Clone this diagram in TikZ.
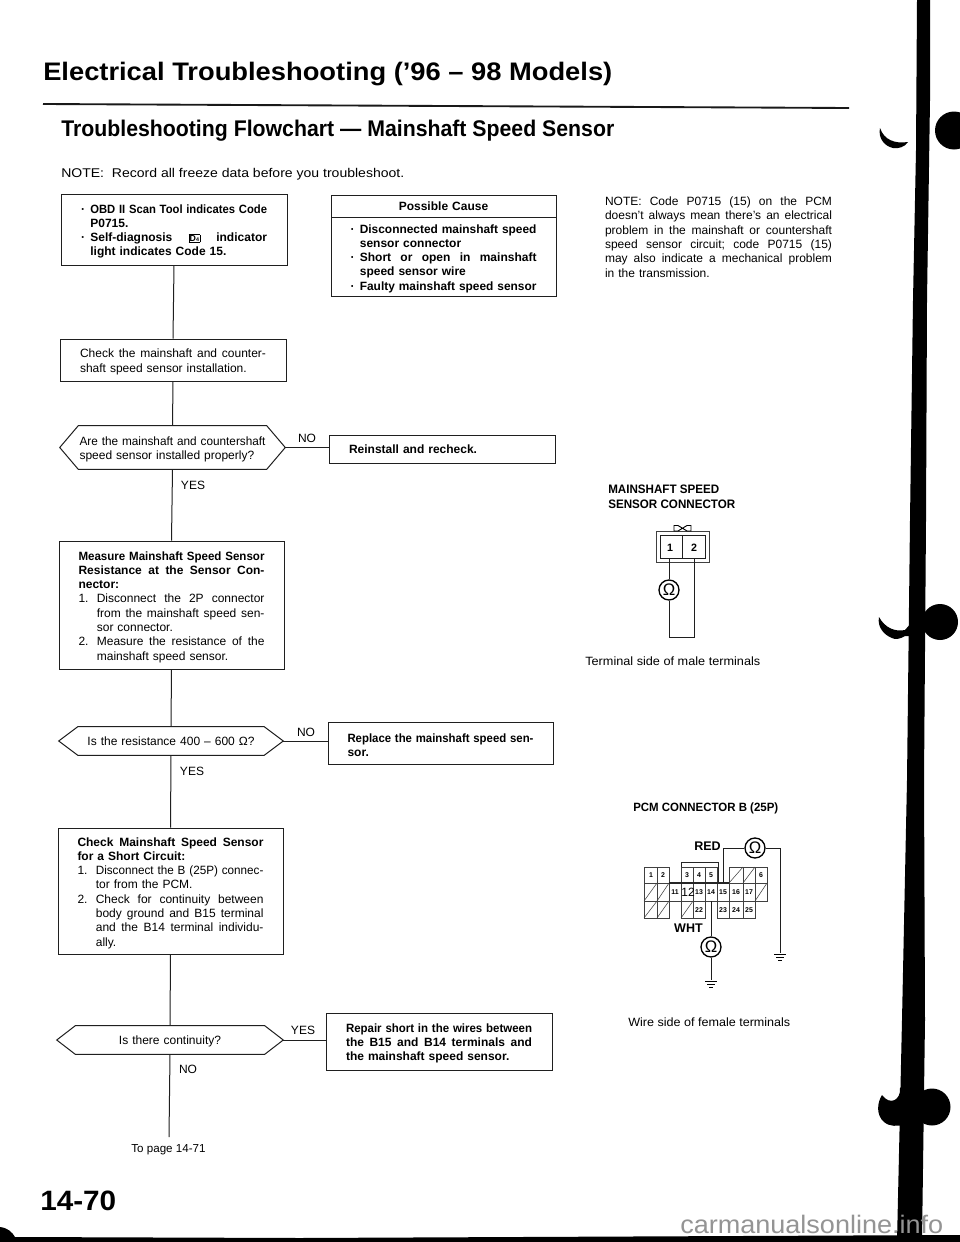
\documentclass[tikz,border=0pt]{standalone}
\usepackage{fontspec}
\usepackage{graphicx}
\setmainfont{Liberation Sans}
\usetikzlibrary{calc}
\newsavebox\tmpb
\newdimen\avail
\def\bw{139.5pt}
% justified line: indent, marker, text
\newcommand\lineJ[3]{\hbox to \bw{\hbox to #1{#2\hss}\avail=\dimexpr\bw-#1\relax\sbox\tmpb{\frenchspacing\spaceskip=\fontdimen2\font plus 1fil\relax #3}\ifdim\wd\tmpb>\avail\resizebox{\avail}{\height}{#3}\else\hbox to \avail{\unhbox\tmpb}\fi}}
% natural line
\newcommand\lineN[3]{\hbox to \bw{\hbox to #1{#2\hss}\avail=\dimexpr\bw-#1\relax\sbox\tmpb{#3}\ifdim\wd\tmpb>\avail\resizebox{\avail}{\height}{#3}\else\usebox\tmpb\fi\hss}}
% text fitted to a width given in pixels
\newcommand\tw[2]{\avail=0.75pt\avail=#1\avail\resizebox{\avail}{\height}{#2}}
\newcommand\dicon{\smash{\raisebox{0.2pt}{\setlength\fboxsep{0.4pt}\setlength\fboxrule{0.35pt}\fbox{\fontsize{6.6}{7}\selectfont D\raisebox{-0.2pt}{\fontsize{4}{4}\selectfont 4}}}}}
\newcommand\hexa[2]{\draw[flowline] (#1.west) -- ([xshift=#2*0.75pt]#1.north west) -- ([xshift=-#2*0.75pt]#1.north east) -- (#1.east) -- ([xshift=-#2*0.75pt]#1.south east) -- ([xshift=#2*0.75pt]#1.south west) -- cycle;}
\tikzset{
  flowline/.style={line width=0.75pt,black!88},
  flowbox/.style 2 args={draw=black!88,line width=0.75pt,inner sep=0pt,minimum width=#1*0.75pt,minimum height=#2*0.75pt,text width=139.5pt,font=\fontsize{9}{10.7}\selectfont,execute at end node={\par\vspace*{-3pt}}},
  flowhex/.style 2 args={inner sep=0pt,minimum width=#1*0.75pt,minimum height=#2*0.75pt,text width=139.5pt,font=\fontsize{9}{10.7}\selectfont,execute at end node={\par\vspace*{-3pt}}},
  lbl/.style={inner sep=0pt,anchor=base west},
  edge lbl/.style={inner sep=0pt,font=\fontsize{9}{10}\selectfont},
  meter/.style={circle,draw=black,line width=1pt,minimum size=20*0.75pt,inner sep=0pt,font=\fontsize{12.5}{12.5}\selectfont},
  wire/.style={line width=0.75pt,black!88},
  cellbox/.style={line width=0.4pt,black!75},
  pin/.style={inner sep=0pt,font=\fontsize{5.2}{6}\bfseries\selectfont},
}
\begin{document}
\begin{tikzpicture}[x=0.75pt,y=-0.75pt]
\useasboundingbox (0,0) rectangle (960,1242);
\clip (0,0) rectangle (960,1242);
\fill[white] (0,0) rectangle (960,1242);

% headings
\node[lbl] (title) at (43,80) {\fontsize{19}{22}\bfseries\selectfont\tw{569}{Electrical Troubleshooting ('96 – 98 Models)}};
\draw[line width=1.4pt,black!90] (43,104) -- (849,108);
\node[lbl] (subtitle) at (61,136.5) {\fontsize{17}{20}\bfseries\selectfont\tw{553}{Troubleshooting Flowchart — Mainshaft Speed Sensor}};
\node[lbl] (topnote) at (61,177) {\fontsize{9.5}{11}\selectfont\tw{343}{NOTE:\ \ Record all freeze data before you troubleshoot.}};

% flowchart boxes
\node[flowbox={226}{71}] (start) at (174,229.5) {\bfseries
  \lineJ{7pt}{·}{OBD II Scan Tool indicates Code}
  \lineN{7pt}{}{P0715.}
  \lineJ{7pt}{·}{Self-diagnosis \dicon{} indicator}
  \lineN{7pt}{}{light indicates Code 15.}};
\node[flowbox={225}{22}] (causehead) at (443.5,206) {\centering\bfseries Possible Cause\par};
\node[flowbox={225}{79}] (causebody) at (443.5,256.5) {\bfseries
  \lineJ{7pt}{·}{Disconnected mainshaft speed}
  \lineN{7pt}{}{sensor connector}
  \lineJ{7pt}{·}{Short or open in mainshaft}
  \lineN{7pt}{}{speed sensor wire}
  \lineN{7pt}{·}{Faulty mainshaft speed sensor}};
\node[flowbox={226}{42}] (check) at (173,360) {
  \lineJ{0pt}{}{Check the mainshaft and counter-}
  \lineN{0pt}{}{shaft speed sensor installation.}};
\node[flowhex={225}{43}] (d1) at (172.5,447.5) {
  \lineJ{0pt}{}{Are the mainshaft and countershaft}
  \lineN{0pt}{}{speed sensor installed properly?}};
\hexa{d1}{18.5}
\node[flowbox={226}{28}] (reinstall) at (442,449.5) {\bfseries
  \lineN{0pt}{}{Reinstall and recheck.}};
\node[flowbox={225}{128}] (measure) at (171.5,605) {
  \lineJ{0pt}{}{\bfseries Measure Mainshaft Speed Sensor}
  \lineJ{0pt}{}{\bfseries Resistance at the Sensor Con-}
  \lineN{0pt}{}{\bfseries nector:}
  \lineJ{13.75pt}{1.}{Disconnect the 2P connector}
  \lineJ{13.75pt}{}{from the mainshaft speed sen-}
  \lineN{13.75pt}{}{sor connector.}
  \lineJ{13.75pt}{2.}{Measure the resistance of the}
  \lineN{13.75pt}{}{mainshaft speed sensor.}};
\node[flowhex={224}{28}] (d2) at (171,741) {\centering Is the resistance 400 – 600 Ω?\par};
\hexa{d2}{19}
\node[flowbox={225}{42}] (replace) at (440.5,743) {\bfseries
  \lineJ{0pt}{}{Replace the mainshaft speed sen-}
  \lineN{0pt}{}{sor.}};
\node[flowbox={225}{126}] (shortcheck) at (170.5,891) {
  \lineJ{0pt}{}{\bfseries Check Mainshaft Speed Sensor}
  \lineN{0pt}{}{\bfseries for a Short Circuit:}
  \lineJ{13.75pt}{1.}{Disconnect the B (25P) connec-}
  \lineN{13.75pt}{}{tor from the PCM.}
  \lineJ{13.75pt}{2.}{Check for continuity between}
  \lineJ{13.75pt}{}{body ground and B15 terminal}
  \lineJ{13.75pt}{}{and the B14 terminal individu-}
  \lineN{13.75pt}{}{ally.}};
\node[flowhex={226}{28}] (d3) at (170,1040) {\centering Is there continuity?\par};
\hexa{d3}{18.5}
\node[flowbox={226}{57}] (repair) at (439,1041.5) {\bfseries
  \lineJ{0pt}{}{Repair short in the wires between}
  \lineJ{0pt}{}{the B15 and B14 terminals and}
  \lineN{0pt}{}{the mainshaft speed sensor.}};

% connectors
\coordinate (pageend) at (169,1137);
\draw[flowline] (start.south) -- (check.north);
\draw[flowline] (check.south) -- (d1.north);
\draw[flowline] (d1.south) -- (measure.north);
\draw[flowline] (measure.south) -- (d2.north);
\draw[flowline] (d2.south) -- (shortcheck.north);
\draw[flowline] (shortcheck.south) -- (d3.north);
\draw[flowline] (d3.south) -- (pageend);
\draw[flowline] (d1.east) -- (reinstall.west |- d1.east);
\draw[flowline] (d2.east) -- (replace.west |- d2.east);
\draw[flowline] (d3.east) -- (repair.west |- d3.east);

\node[edge lbl] (no1) at (307,438) {NO};
\node[edge lbl] (yes1) at (193,485) {YES};
\node[edge lbl] (no2) at (306,732) {NO};
\node[edge lbl] (yes2) at (192,771) {YES};
\node[edge lbl] (yes3) at (303,1030) {YES};
\node[edge lbl] (no3) at (188,1069) {NO};
\node[inner sep=0pt,font=\fontsize{8.7}{10}\selectfont] (topage) at (168.5,1150) {To page 14-71};
\node[lbl] (pageno) at (40,1210) {\fontsize{21}{24}\bfseries\selectfont\tw{76}{14-70}};

% right note
\node[inner sep=0pt,text width=170.25pt,font=\fontsize{9}{10.75}\selectfont] (rnote) at (718.5,237) {\def\bw{170.25pt}%
  \lineJ{0pt}{}{NOTE: Code P0715 (15) on the PCM}
  \lineJ{0pt}{}{doesn't always mean there's an electrical}
  \lineJ{0pt}{}{problem in the mainshaft or countershaft}
  \lineJ{0pt}{}{speed sensor circuit; code P0715 (15)}
  \lineJ{0pt}{}{may also indicate a mechanical problem}
  \lineN{0pt}{}{in the transmission.}};

% mainshaft connector
\node[lbl] (mshead1) at (608,493) {\fontsize{9.2}{11}\bfseries\selectfont\tw{111}{MAINSHAFT SPEED}};
\node[lbl] (mshead2) at (608,508) {\fontsize{9.2}{11}\bfseries\selectfont\tw{127}{SENSOR CONNECTOR}};
\draw[cellbox,line width=0.55pt] (656,531) rectangle (709,562);
\draw[wire] (660,535) rectangle (705,558);
\draw[wire] (682,535) -- (682,558);
\draw[line width=0.7pt] (674,525.5) -- (678,525.5) -- (687,531) -- (691,531) -- (691,525.5) -- (687,525.5) -- (678,531) -- (674,531) -- cycle;
\node[inner sep=0pt,font=\fontsize{8}{9}\bfseries\selectfont] (ms1) at (670,548) {1};
\node[inner sep=0pt,font=\fontsize{8}{9}\bfseries\selectfont] (ms2) at (694,548) {2};
\node[meter] (m0) at (669,590) {Ω};
\coordinate (msa) at (669,558);
\coordinate (msb) at (694.5,558);
\coordinate (msc) at (669,637);
\draw[wire] (msa) -- (m0.north);
\draw[wire] (m0.south) -- (msc) -| (msb);
\node[lbl] (mscap) at (585,665) {\fontsize{9}{11}\selectfont\tw{175}{Terminal side of male terminals}};

% PCM connector
\node[lbl] (pcmhead) at (633,811) {\fontsize{9}{11}\bfseries\selectfont\tw{145}{PCM CONNECTOR B (25P)}};
\node[inner sep=0pt,font=\fontsize{9.4}{11}\bfseries\selectfont] (red) at (707.5,846) {RED};
\node[inner sep=0pt,font=\fontsize{9.4}{11}\bfseries\selectfont] (wht) at (688.5,928) {WHT};
\foreach \xa/\xb/\ya/\yb in {644/657/867/883,657/669/867/883,
    681/693/867/883,693/705/867/883,705/717/867/883,755/767/867/883,
    669/681/883/901,681/693/883/901,693/705/883/901,705/717/883/901,717/729/883/901,729/743/883/901,743/755/883/901,
    693/705/901/918,717/729/901/918,729/743/901/918,743/755/901/918}
  \draw[cellbox] (\xa,\ya) rectangle (\xb,\yb);
\foreach \xa/\xb/\ya/\yb in {644/657/883/901,657/669/883/901,644/657/901/918,657/669/901/918,
    729/743/867/883,743/755/867/883,755/767/883/901,681/693/901/918}{
  \draw[cellbox] (\xa,\ya) rectangle (\xb,\yb);
  \draw[cellbox] (\xa,\yb) -- (\xb,\ya);
}
\draw[line width=0.8pt,black!85] (669,883) -- (729,883);
\draw[line width=0.6pt,black!85] (681,867) -- (681,862) -- (718,862) -- (718,883);
\foreach \n/\x/\y in {1/651/875,2/663/875,3/687/875,4/699/875,5/711/875,6/761/875,
    11/675/892,13/699/892,14/711/892,15/723/892,16/736/892,17/749/892,
    22/699/910,23/723/910,24/736/910,25/749/910}
  \node[pin] (p\n) at (\x,\y) {\n};
\node[inner sep=0pt,font=\fontsize{9}{10}\selectfont] (p12) at (688,892) {12};
\node[meter] (m1) at (755,848) {Ω};
\node[meter] (m2) at (711,947) {Ω};
\coordinate (t15) at (723,883);
\coordinate (t14) at (711,901);
\coordinate (g1) at (780,953);
\coordinate (g2) at (711,980);
\draw[wire] (m1.west) -| (t15);
\draw[wire] (m1.east) -| (g1);
\draw[wire] (t14) -- (m2.north);
\draw[wire] (m2.south) -- (g2);
\foreach \p in {g1,g2}{
  \draw[line width=0.5pt] ($(\p)+(-6,1)$) -- ($(\p)+(6,1)$);
  \draw[line width=0.5pt] ($(\p)+(-4,4)$) -- ($(\p)+(4,4)$);
  \draw[line width=0.5pt] ($(\p)+(-2,7)$) -- ($(\p)+(2,7)$);
}
\node[lbl] (pcmcap) at (628,1026) {\fontsize{9}{11}\selectfont\tw{162}{Wire side of female terminals}};

% page edge marks
\fill[black] (917,0) -- (930,0) -- (930,100) -- (927,300) -- (926,520) -- (924,780) -- (925,1020) -- (922,1242)
  -- (897,1242) -- (902,1020) -- (907,780) -- (910,520) -- (913,300) -- (916,150) -- cycle;
\fill[black] (880,128) .. controls (884,140) and (895,144) .. (908,142) .. controls (905,147) and (898,149) .. (893,148) .. controls (884,146) and (878,138) .. (880,128) -- cycle;
\fill[black] (954,130.5) circle (19);
\fill[black] (940,622) circle (18);
\fill[black] (879,617) .. controls (885,628) and (895,632) .. (905,630) -- (912,622) -- (912,636) -- (905,636) .. controls (900,639) and (895,640) .. (892,638) .. controls (884,635) and (877,627) .. (879,617) -- cycle;
\fill[black] (932,1107) circle (18.5);
\fill[black] (882,1095) .. controls (877,1103) and (876,1115) .. (884,1122) .. controls (890,1127) and (897,1126) .. (905,1125) -- (905,1088) -- (900,1088) .. controls (901,1100) and (890,1106) .. (882,1095) -- cycle;
\fill[black] (0,1227) .. controls (8,1228) and (12,1232) .. (15,1237) -- (300,1238) -- (960,1235) -- (960,1242) -- (0,1242) -- cycle;

% watermark
\node[lbl,text=black!42] (mark) at (680,1233) {\fontsize{19}{22}\selectfont\tw{263}{carmanualsonline.info}};
\end{tikzpicture}
\end{document}
